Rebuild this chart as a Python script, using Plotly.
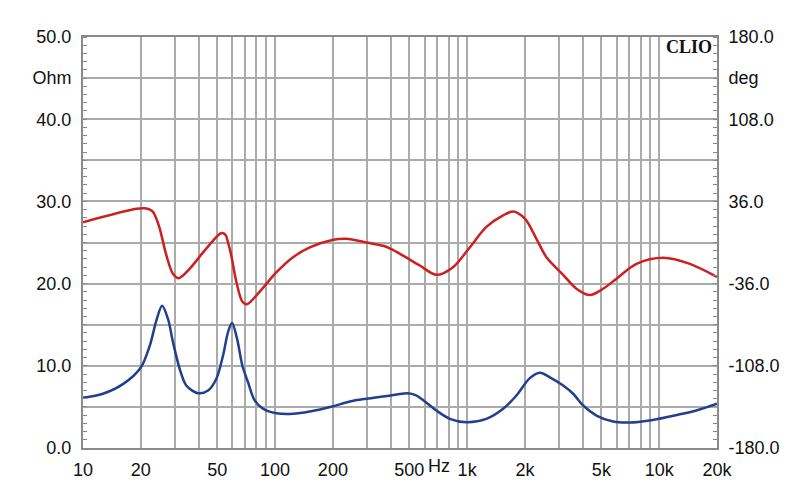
import plotly.graph_objects as go

# Frequency axis (Hz)
red_freq = [10, 18.96, 20.95, 22.3, 23.2, 24.1, 25.1, 27.2, 29.4, 31.6, 35.9, 42.2, 49.4, 51.5,
            53.2, 55.3, 56.9, 59.2, 62.9, 67.6, 71.5, 79.9, 90.1, 100, 124, 151.6, 198.6, 235,
            299, 365, 403, 464, 567, 692, 845, 1032, 1260, 1540, 1738, 1998, 2296, 2588, 3162,
            3708, 4355, 5106, 5994, 7620, 10500, 14450, 20000]
# Red curve in Ohm-equivalent reading, converted to degrees below
red_ohm_equiv = [27.47, 29.1, 29.17, 29.0, 28.7, 27.9, 26.7, 23.4, 21.2, 20.66, 21.8, 23.8, 25.65,
                 26.05, 26.15, 25.9, 25.0, 23.4, 20.2, 17.8, 17.5, 18.55, 19.97, 21.2, 23.2, 24.4,
                 25.3, 25.45, 25.0, 24.6, 24.2, 23.4, 22.2, 21.07, 22.0, 24.4, 26.9, 28.3, 28.77,
                 27.9, 25.45, 23.2, 21.07, 19.37, 18.6, 19.37, 20.6, 22.4, 23.14, 22.4, 20.8]
phase_deg = [-180 + v * 7.2 for v in red_ohm_equiv]

imp_freq = [10, 12.7, 16.2, 20, 22.3, 24.1, 25.8, 27.7, 29.4, 31.9, 34.5, 39.7, 44.8, 49.4, 53.6,
            56.9, 59.7, 63.4, 67.6, 72.3, 78.3, 86.6, 101.6, 124, 151.6, 198.6, 245, 299, 365,
            430, 490, 542, 600, 692, 813, 990, 1260, 1540, 1806, 2121, 2393, 2696, 3162, 3565,
            4019, 4714, 5754, 7031, 8930, 11350, 15630, 20000]
imp_ohm = [6.1, 6.6, 7.8, 9.8, 12.5, 15.5, 17.3, 15.7, 12.9, 9.6, 7.6, 6.67, 7.0, 8.4, 11.25,
           14.1, 15.2, 13.3, 10.0, 8.0, 5.8, 4.77, 4.23, 4.16, 4.44, 5.05, 5.66, 6.0, 6.27,
           6.5, 6.65, 6.4, 5.7, 4.56, 3.55, 3.14, 3.55, 4.77, 6.39, 8.5, 9.15, 8.6, 7.6, 6.6,
           5.17, 3.95, 3.22, 3.1, 3.35, 3.83, 4.56, 5.38]

# Axis ticks
x_tickvals = [m * 10 ** e for e in range(1, 5) for m in range(1, 10) if m * 10 ** e <= 20000]
x_labels = {10: "10", 20: "20", 50: "50", 100: "100", 200: "200", 500: "500",
            1000: "1k", 2000: "2k", 5000: "5k", 10000: "10k", 20000: "20k"}
x_ticktext = [x_labels.get(v, "") for v in x_tickvals]

y_tickvals = [0, 5, 10, 15, 20, 25, 30, 35, 40, 45, 50]
y_ticktext = ["0.0", "", "10.0", "", "20.0", "", "30.0", "", "40.0", "Ohm", "50.0"]
y2_tickvals = [-180, -144, -108, -72, -36, 0, 36, 72, 108, 144, 180]
y2_ticktext = ["-180.0", "", "-108.0", "", "-36.0", "", "36.0", "", "108.0", "deg", "180.0"]

FONT = "Liberation Sans, Arial, sans-serif"
GRID = "#ababab"
FRAME = "#8a8a8a"

fig = go.Figure()
fig.add_trace(go.Scatter(x=red_freq, y=phase_deg, yaxis="y2", mode="lines",
                         line=dict(color="#cc2020", width=2.5, shape="spline", smoothing=0.9),
                         showlegend=False, hoverinfo="skip"))
fig.add_trace(go.Scatter(x=imp_freq, y=imp_ohm, mode="lines",
                         line=dict(color="#213f8c", width=2.5, shape="spline", smoothing=0.9),
                         showlegend=False, hoverinfo="skip"))

fig.update_layout(
    width=800, height=504, autosize=False,
    margin=dict(l=83, r=83, t=37, b=56),
    paper_bgcolor="white", plot_bgcolor="white",
    font=dict(family=FONT, size=18, color="#111111"),
    xaxis=dict(type="log", range=[1, 4.30103], tickvals=x_tickvals, ticktext=x_ticktext,
               showgrid=True, gridcolor=GRID, gridwidth=1.5, ticks="",
               showline=True, linecolor=FRAME, linewidth=2, mirror=True,
               zeroline=False, ticklabelstandoff=4),
    yaxis=dict(range=[0, 50], tickvals=y_tickvals, ticktext=y_ticktext,
               showgrid=True, gridcolor=GRID, gridwidth=1.5, ticks="",
               showline=True, linecolor=FRAME, linewidth=2, mirror=True,
               zeroline=False, ticklabelstandoff=6,
               minor=dict(dtick=1, ticks="inside", ticklen=4, tickcolor=FRAME, showgrid=False)),
    yaxis2=dict(range=[-180, 180], tickvals=y2_tickvals, ticktext=y2_ticktext,
                overlaying="y", side="right", showgrid=False, ticks="",
                showline=True, linecolor=FRAME, linewidth=2, zeroline=False,
                ticklabelstandoff=6,
                minor=dict(dtick=7.2, tick0=-180, ticks="inside", ticklen=4, tickcolor=FRAME,
                           showgrid=False)),
    annotations=[
        dict(text="Hz", xref="paper", yref="paper", x=(438.5 - 83) / 634, y=0,
             yanchor="top", xanchor="center", yshift=-6, showarrow=False,
             font=dict(family=FONT, size=18, color="#111111")),
        dict(text="<b>CLIO</b>", xref="paper", yref="paper", x=(714 - 83) / 634,
             y=(448 - 47) / 411, xanchor="right", yanchor="middle", showarrow=False,
             font=dict(family="Liberation Serif, Times New Roman, serif", size=18, color="#111111")),
    ],
)

fig.write_html("out.html")
